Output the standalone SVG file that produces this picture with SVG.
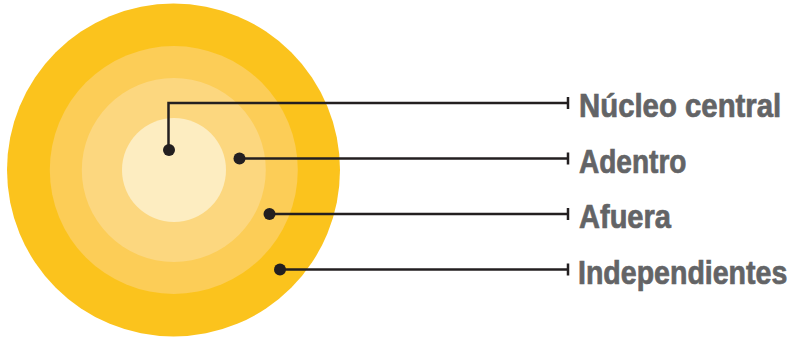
<svg xmlns="http://www.w3.org/2000/svg" width="801" height="337" viewBox="0 0 801 337">
<style>
.lbl{font-family:"Liberation Sans",Arial,sans-serif;font-weight:bold;font-size:33px;fill:#636466;stroke:#636466;stroke-width:0.7}
.con{fill:none;stroke:#231F20;stroke-width:2.5}
.dot{fill:#231F20}
</style>
<rect width="801" height="337" fill="#ffffff"/>
<g id="rings">
<circle id="ring-independientes" cx="173.5" cy="170" r="166.5" fill="#FBC31D"/>
<circle id="ring-afuera" cx="173.8" cy="170" r="124" fill="#FCCD57"/>
<circle id="ring-adentro" cx="173.8" cy="170" r="92" fill="#FCD77F"/>
<circle id="ring-nucleo" cx="174" cy="170" r="52" fill="#FDEDC1"/>
</g>
<g id="connectors">
<path class="con" d="M168.5 150 V103 H568"/>
<path class="con" d="M239.5 158.5 H568"/>
<path class="con" d="M269.5 214 H568"/>
<path class="con" d="M280 269.5 H568"/>
<path class="con" d="M568 97 V109 M568 152.5 V164.5 M568 208 V220 M568 263.5 V275.5"/>
<circle class="dot" cx="169" cy="150" r="6"/>
<circle class="dot" cx="239.5" cy="158.5" r="6"/>
<circle class="dot" cx="269.5" cy="214" r="6"/>
<circle class="dot" cx="280" cy="269.5" r="6"/>
</g>
<g id="label-nucleo"><text class="lbl" transform="translate(579 117) scale(0.89 1)">Núcleo central</text></g>
<g id="label-adentro"><text class="lbl" transform="translate(579 172.5) scale(0.85 1)">Adentro</text></g>
<g id="label-afuera"><text class="lbl" transform="translate(579 228) scale(0.88 1)">Afuera</text></g>
<g id="label-independientes"><text class="lbl" transform="translate(578 283.5) scale(0.865 1)">Independientes</text></g>
</svg>
